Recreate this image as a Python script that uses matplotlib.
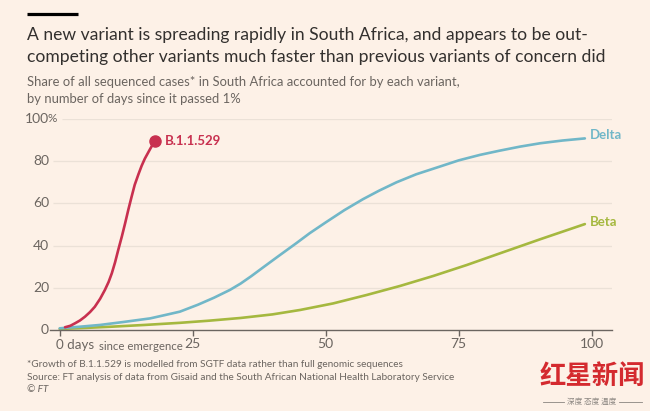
import matplotlib
matplotlib.use("Agg")
import matplotlib.pyplot as plt

# values (days since variant passed 1%, share %)
b529_days = [1.0, 2.0, 2.9, 3.8, 4.75, 5.7, 6.6, 7.6, 8.5, 9.2, 9.8, 10.4, 11.0, 11.7,
             12.3, 12.9, 13.5, 14.1, 14.8, 15.4, 16.0, 17.0, 17.9]
b529_share = [1.3, 2.0, 3.2, 4.5, 6.3, 8.5, 11, 14.8, 19, 22.8, 26.9, 32, 37.9, 44.5,
              50.6, 57, 63, 68.8, 73.8, 77.8, 81.2, 85.8, 89.7]

delta_days = [0, 4, 7.6, 12, 17, 20, 22.6, 26, 29, 32, 34, 36, 38.3, 41, 44.5, 47, 50,
              53.5, 57, 60, 63.3, 67, 71.5, 75, 79, 82.7, 86.5, 90.3, 94.5, 98.7]
delta_share = [0.8, 1.6, 2.4, 3.8, 5.5, 7.2, 8.7, 12, 15.3, 19, 22, 25.5, 29.8, 34.8, 41.2,
               45.9, 51, 56.8, 62, 66, 70, 73.8, 77.5, 80.4, 83, 85, 86.9, 88.5, 89.8, 90.8]

beta_days = [0, 5, 10, 16, 22.6, 28, 34, 40, 45.2, 51.4, 57.7, 64, 70.2, 76.5, 82.7,
             90.3, 98.7]
beta_share = [0.5, 1.0, 1.6, 2.4, 3.4, 4.4, 5.7, 7.4, 9.5, 12.6, 16.6, 20.9, 25.6, 30.8,
              36.3, 43, 50.2]

x_ticks = [0, 25, 50, 75, 100]
y_ticks = [0, 20, 40, 60, 80, 100]

bg = "#fdf1e7"
dark = "#33302e"
grey = "#6b6560"
grid_c = "#ebe1d7"
red = "#c8304f"
blue = "#71b7c8"
green = "#a5b83f"

plt.rcParams['font.family'] = ['Lato', 'DejaVu Sans']

fig = plt.figure(figsize=(6.5, 4.11), dpi=100, facecolor=bg)
ax = fig.add_axes([50 / 650, 81 / 411, 562 / 650, 211 / 411])
ax.set_facecolor(bg)
ax.set_xlim(-1.82, 103.8)
ax.set_ylim(0, 100)

for s in ["top", "right", "left"]:
    ax.spines[s].set_visible(False)
ax.spines["bottom"].set_color(grey)
ax.spines["bottom"].set_linewidth(1)

# grid lines
for v in y_ticks[1:]:
    start = 0.4 if v == 100 else -1.25
    ax.hlines(v, start, 103.8, color=grid_c, lw=0.9, zorder=0)

ax.set_yticks([])
ax.set_xticks(x_ticks)
ax.set_xticklabels([""] + [str(t) for t in x_ticks[1:]])
ax.tick_params(axis="x", length=4, width=1, color=grey, labelcolor=grey,
               labelsize=10, pad=2)

# y labels, FT style with the % hanging
for v in y_ticks:
    ax.text(-2.0, v, str(v), ha="right", va="center", fontsize=10, color=grey)
ax.text(-2.25, 100, "%", ha="left", va="center", fontsize=8.5, color=grey)

ax.text(-0.75, -4.5, "0 days", ha="left", va="top", fontsize=9.6, color=grey, clip_on=False)
ax.text(7.4, -5.3, "since emergence", ha="left", va="top", fontsize=8.2, color=grey, clip_on=False)

ax.plot(beta_days, beta_share, color=green, lw=1.9, solid_capstyle="round",
        solid_joinstyle="round", clip_on=False)
ax.plot(delta_days, delta_share, color=blue, lw=1.9, solid_capstyle="round",
        solid_joinstyle="round", clip_on=False)
ax.plot(b529_days, b529_share, color=red, lw=1.9, solid_capstyle="round",
        solid_joinstyle="round", clip_on=False)
ax.plot(b529_days[-1], b529_share[-1], "o", color=red, ms=8, clip_on=False)

ax.text(b529_days[-1] + 1.9, b529_share[-1], "B.1.1.529", color=red, fontsize=9.5,
        fontweight="bold", va="center", ha="left")
ax.text(delta_days[-1] + 0.9, delta_share[-1] + 1.5, "Delta", color=blue, fontsize=9.5,
        fontweight="bold", va="center", ha="left", clip_on=False)
ax.text(beta_days[-1] + 0.9, beta_share[-1] + 0.8, "Beta", color=green, fontsize=9.5,
        fontweight="bold", va="center", ha="left", clip_on=False)

# header
fig.add_artist(plt.Line2D([27 / 650, 78 / 650], [1 - 14.5 / 411, 1 - 14.5 / 411],
                          color="black", lw=2.3, solid_capstyle="butt"))
fig.text(27 / 650, 1 - 40 / 411,
         "A new variant is spreading rapidly in South Africa, and appears to be out-",
         fontsize=12.6, color=dark, va="baseline")
fig.text(27 / 650, 1 - 62 / 411,
         "competing other variants much faster than previous variants of concern did",
         fontsize=12.6, color=dark, va="baseline")
fig.text(27 / 650, 1 - 85.7 / 411,
         "Share of all sequenced cases* in South Africa accounted for by each variant,",
         fontsize=9.4, color=grey, va="baseline")
fig.text(27 / 650, 1 - 102.7 / 411, "by number of days since it passed 1%",
         fontsize=9.4, color=grey, va="baseline")

# footnotes
fig.text(27 / 650, 1 - 367 / 411,
         "*Growth of B.1.1.529 is modelled from SGTF data rather than full genomic sequences",
         fontsize=7.2, color=grey, va="baseline")
fig.text(27 / 650, 1 - 379.5 / 411,
         "Source: FT analysis of data from Gisaid and the South African National Health Laboratory Service",
         fontsize=7.2, color=grey, va="baseline")
fig.text(27 / 650, 1 - 391.5 / 411, "© FT", fontsize=7.2, color=grey, va="baseline",
         style="italic")

# watermark
wm = ['Noto Sans CJK SC', 'DejaVu Sans']
fig.text(592 / 650, 1 - 376 / 411, "红星新闻", family=wm, fontsize=19, color="#d42a2f",
         fontweight="bold", ha="center", va="center")
fig.text(592 / 650, 1 - 401.5 / 411, "深度 态度 温度", family=wm, fontsize=5.5, color="#8a8580",
         ha="center", va="center")
for x0, x1 in [(543, 564), (619, 642)]:
    fig.add_artist(plt.Line2D([x0 / 650, x1 / 650], [1 - 401.5 / 411] * 2, color="#8a8580", lw=0.6))

fig.savefig("out.png", dpi=100, facecolor=bg)
